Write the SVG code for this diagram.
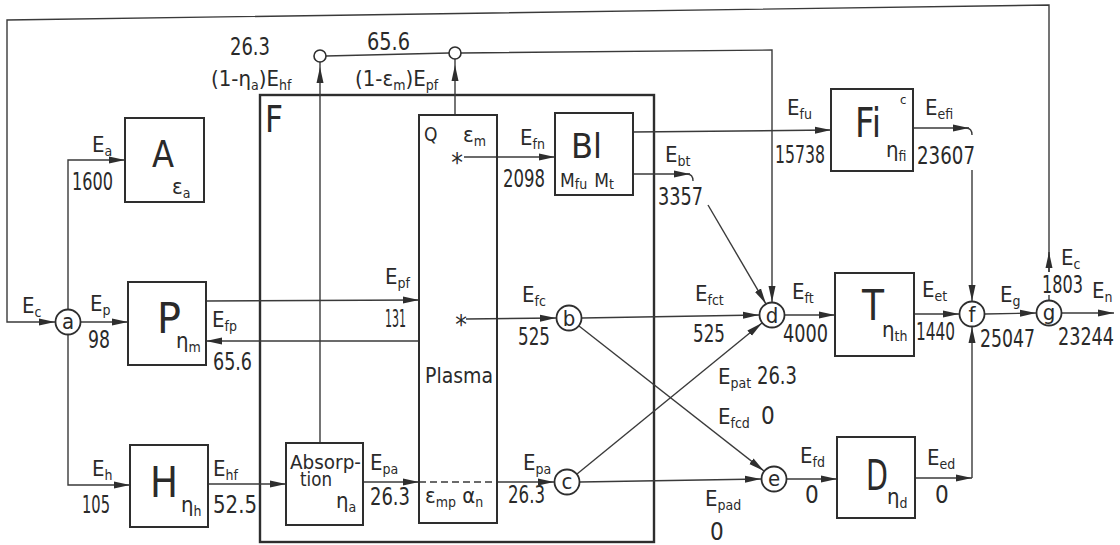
<svg xmlns="http://www.w3.org/2000/svg" width="1120" height="545" viewBox="0 0 1120 545">
<defs>
<marker id="ar" markerUnits="userSpaceOnUse" markerWidth="16" markerHeight="8" refX="16" refY="4" orient="auto">
<path d="M0,0.5 L16,4 L0,7.5 z" fill="#2e2e2e"/>
</marker>
<style>
.t{font-family:"Liberation Sans Narrow","DejaVu Sans Condensed","Liberation Sans",sans-serif;font-size:22px;fill:#2a2a2a}
.n{font-size:24px}
.s{font-size:14px}
.big{font-size:42px}
.box{fill:#fff;stroke:#2e2e2e;stroke-width:2}
.thick{fill:none;stroke:#2e2e2e;stroke-width:2.4}
.ln{fill:none;stroke:#3a3a3a;stroke-width:1.4}
.arr{fill:none;stroke:#3a3a3a;stroke-width:1.4;marker-end:url(#ar)}
.cir{fill:#fff;stroke:#2e2e2e;stroke-width:1.8}
.sc{fill:#fff;stroke:#2e2e2e;stroke-width:1.6}
.c{text-anchor:middle}
</style>
</defs>
<rect width="1120" height="545" fill="#fff"/>

<g id="frameF">
<rect class="thick" x="260" y="95" width="394" height="447"/>
<text class="t" x="265" y="132" style="font-size:37px" textLength="18" lengthAdjust="spacingAndGlyphs">F</text>
</g>

<g id="connectors">
<path class="arr" d="M1049,272 L1049,5 L7,20 L7,322 L55,322"/>
<line class="arr" x1="1049" y1="272" x2="1049" y2="252"/>
<line class="ln" x1="1049" y1="300" x2="1049" y2="295"/>
<path class="arr" d="M68,309 L68,160 L125,160"/>
<line class="arr" x1="81" y1="322" x2="128" y2="322"/>
<path class="arr" d="M68,335 L68,485 L130,485"/>
<line class="arr" x1="206" y1="301" x2="419" y2="300"/>
<line class="arr" x1="419" y1="341" x2="206" y2="341"/>
<line class="arr" x1="208" y1="484" x2="286" y2="484"/>
<line class="arr" x1="363" y1="482" x2="419" y2="482"/>
<line class="ln" x1="419" y1="482" x2="497" y2="482" stroke-dasharray="7,4"/>
<line class="arr" x1="497" y1="482" x2="554" y2="482"/>
<line class="arr" x1="320" y1="443" x2="320" y2="67"/>
<line class="ln" x1="320" y1="67" x2="320" y2="62"/>
<line class="arr" x1="455" y1="115" x2="455" y2="65"/>
<line class="ln" x1="455" y1="65" x2="455" y2="59"/>
<line class="ln" x1="326" y1="56" x2="449" y2="53"/>
<path class="arr" d="M461,53 L772,50 L772,302"/>
<line class="arr" x1="464" y1="157" x2="555" y2="157"/>
<line class="arr" x1="633" y1="132" x2="831" y2="130"/>
<line class="arr" x1="633" y1="174" x2="690" y2="174"/>
<path class="ln" d="M687,174 Q693,174 693,181"/>
<line class="arr" x1="708" y1="205" x2="766" y2="304"/>
<line class="arr" x1="466" y1="319" x2="556" y2="318"/>
<line class="arr" x1="582" y1="318" x2="759" y2="315"/>
<line class="arr" x1="579" y1="326" x2="764" y2="471"/>
<line class="arr" x1="577" y1="474" x2="762" y2="323"/>
<line class="arr" x1="580" y1="482" x2="761" y2="479"/>
<line class="arr" x1="785" y1="315" x2="835" y2="315"/>
<line class="arr" x1="914" y1="314" x2="959" y2="314"/>
<line class="arr" x1="985" y1="314" x2="1036" y2="313"/>
<line class="arr" x1="1062" y1="313" x2="1114" y2="313"/>
<line class="arr" x1="913" y1="128" x2="969" y2="128"/>
<path class="ln" d="M966,128 Q972,128 972,135"/>
<line class="arr" x1="972" y1="170" x2="972" y2="301"/>
<line class="arr" x1="787" y1="479" x2="837" y2="479"/>
<line class="arr" x1="915" y1="478" x2="972" y2="478"/>
<line class="arr" x1="972" y1="478" x2="972" y2="327"/>
</g>

<g id="smallCircles">
<circle class="sc" cx="320" cy="56" r="6"/>
<circle class="sc" cx="455" cy="53" r="6"/>
</g>

<g id="nodeA">
<rect class="box" x="125" y="118" width="79" height="84"/>
<text class="t" x="152" y="167" style="font-size:37px" textLength="22" lengthAdjust="spacingAndGlyphs">A</text>
<text class="t" x="172" y="194">ε<tspan class="s" dy="4">a</tspan></text>
</g>
<g id="nodeP">
<rect class="box" x="128" y="282" width="78" height="83"/>
<text class="t big" x="157" y="333" textLength="24" lengthAdjust="spacingAndGlyphs">P</text>
<text class="t" x="176" y="348">η<tspan class="s" dy="4">m</tspan></text>
</g>
<g id="nodeH">
<rect class="box" x="130" y="445" width="78" height="82"/>
<text class="t big" x="150" y="497" textLength="28" lengthAdjust="spacingAndGlyphs">H</text>
<text class="t" x="181" y="512">η<tspan class="s" dy="4">h</tspan></text>
</g>
<g id="nodeAbsorption">
<rect class="box" x="286" y="443" width="77" height="82"/>
<text class="t" x="290" y="469" style="font-size:20px" textLength="71" lengthAdjust="spacingAndGlyphs">Absorp-</text>
<text class="t" x="300" y="486" style="font-size:20px" textLength="32" lengthAdjust="spacingAndGlyphs">tion</text>
<text class="t" x="336" y="508">η<tspan class="s" dy="4">a</tspan></text>
</g>
<g id="nodePlasma">
<rect class="box" x="419" y="115" width="78" height="408" style="fill:none"/>
<text class="t" x="424" y="141" style="font-size:19px">Q</text>
<text class="t" x="463" y="142">ε<tspan class="s" dy="4">m</tspan></text>
<text class="t c" x="457" y="172" style="font-size:26px">*</text>
<text class="t c" x="461" y="334" style="font-size:26px">*</text>
<text class="t" x="425" y="383" textLength="68" lengthAdjust="spacingAndGlyphs">Plasma</text>
<text class="t" x="425" y="503">ε<tspan class="s" dy="4">mp</tspan><tspan dy="-4"> α</tspan><tspan class="s" dy="4">n</tspan></text>
</g>
<g id="nodeBl">
<rect class="box" x="555" y="113" width="78" height="82"/>
<text class="t" x="571" y="158" style="font-size:33px" textLength="31" lengthAdjust="spacingAndGlyphs">Bl</text>
<text class="t" x="560" y="187" style="font-size:19px">M<tspan class="s" dy="2">fu</tspan><tspan dx="7" dy="-2">M</tspan><tspan class="s" dy="2">t</tspan></text>
</g>
<g id="nodeFi">
<rect class="box" x="831" y="89" width="82" height="82"/>
<text class="t" x="855" y="137" style="font-size:40px" textLength="26" lengthAdjust="spacingAndGlyphs">Fi</text>
<text class="t" x="900" y="104" style="font-size:13px">c</text>
<text class="t" x="886" y="157">η<tspan class="s" dy="4">fi</tspan></text>
</g>
<g id="nodeT">
<rect class="box" x="835" y="273" width="79" height="83"/>
<text class="t big" x="862" y="320" textLength="22" lengthAdjust="spacingAndGlyphs">T</text>
<text class="t" x="882" y="337">η<tspan class="s" dy="4">th</tspan></text>
</g>
<g id="nodeD">
<rect class="box" x="837" y="437" width="78" height="81"/>
<text class="t big" x="866" y="490" textLength="22" lengthAdjust="spacingAndGlyphs">D</text>
<text class="t" x="887" y="504">η<tspan class="s" dy="4">d</tspan></text>
</g>

<g id="node_a"><circle class="cir" cx="68" cy="322" r="12.5"/><text class="t c" x="68" y="329">a</text></g>
<g id="node_b"><circle class="cir" cx="569" cy="318" r="12.5"/><text class="t c" x="569" y="326">b</text></g>
<g id="node_c"><circle class="cir" cx="567" cy="482" r="12.5"/><text class="t c" x="567" y="489">c</text></g>
<g id="node_d"><circle class="cir" cx="772" cy="315" r="12.5"/><text class="t c" x="772" y="323">d</text></g>
<g id="node_e"><circle class="cir" cx="774" cy="479" r="12.5"/><text class="t c" x="774" y="486">e</text></g>
<g id="node_f"><circle class="cir" cx="972" cy="314" r="12.5"/><text class="t c" x="972" y="322">f</text></g>
<g id="node_g"><circle class="cir" cx="1049" cy="313" r="12.5"/><text class="t c" x="1049" y="320">g</text></g>

<g id="labels">
<text class="t" x="22" y="313">E<tspan class="s" dy="4">c</tspan></text>
<text class="t" x="92" y="152">E<tspan class="s" dy="4">a</tspan></text>
<text class="t n" x="72" y="190" textLength="41" lengthAdjust="spacingAndGlyphs">1600</text>
<text class="t" x="90" y="311">E<tspan class="s" dy="4">p</tspan></text>
<text class="t n" x="88" y="348" textLength="22" lengthAdjust="spacingAndGlyphs">98</text>
<text class="t n" x="82" y="513" textLength="28" lengthAdjust="spacingAndGlyphs">105</text>
<text class="t" x="92" y="476">E<tspan class="s" dy="4">h</tspan></text>
<text class="t" x="213" y="476">E<tspan class="s" dy="4">hf</tspan></text>
<text class="t n" x="213" y="513" textLength="44" lengthAdjust="spacingAndGlyphs">52.5</text>
<text class="t" x="212" y="327">E<tspan class="s" dy="4">fp</tspan></text>
<text class="t n" x="213" y="370" textLength="39" lengthAdjust="spacingAndGlyphs">65.6</text>
<text class="t" x="385" y="284">E<tspan class="s" dy="4">pf</tspan></text>
<text class="t n" x="385" y="327" textLength="21" lengthAdjust="spacingAndGlyphs">131</text>
<text class="t n" x="230" y="55" textLength="40" lengthAdjust="spacingAndGlyphs">26.3</text>
<text class="t" x="211" y="86">(1-η<tspan class="s" dy="4">a</tspan><tspan dy="-4">)E</tspan><tspan class="s" dy="4">hf</tspan></text>
<text class="t n" x="367" y="50" textLength="43" lengthAdjust="spacingAndGlyphs">65.6</text>
<text class="t" x="355" y="86">(1-ε<tspan class="s" dy="4">m</tspan><tspan dy="-4">)E</tspan><tspan class="s" dy="4">pf</tspan></text>
<text class="t" x="520" y="145">E<tspan class="s" dy="4">fn</tspan></text>
<text class="t n" x="503" y="187" textLength="42" lengthAdjust="spacingAndGlyphs">2098</text>
<text class="t" x="665" y="162">E<tspan class="s" dy="4">bt</tspan></text>
<text class="t n" x="658" y="205" textLength="45" lengthAdjust="spacingAndGlyphs">3357</text>
<text class="t" x="787" y="115">E<tspan class="s" dy="4">fu</tspan></text>
<text class="t n" x="775" y="163" textLength="50" lengthAdjust="spacingAndGlyphs">15738</text>
<text class="t" x="925" y="115">E<tspan class="s" dy="4">efi</tspan></text>
<text class="t n" x="917" y="164" textLength="58" lengthAdjust="spacingAndGlyphs">23607</text>
<text class="t" x="522" y="302">E<tspan class="s" dy="4">fc</tspan></text>
<text class="t n" x="518" y="345" textLength="32" lengthAdjust="spacingAndGlyphs">525</text>
<text class="t" x="695" y="301">E<tspan class="s" dy="4">fct</tspan></text>
<text class="t n" x="693" y="342" textLength="32" lengthAdjust="spacingAndGlyphs">525</text>
<text class="t" x="718" y="384">E<tspan class="s" dy="4">pat</tspan></text>
<text class="t n" x="757" y="384" textLength="40" lengthAdjust="spacingAndGlyphs">26.3</text>
<text class="t" x="718" y="424">E<tspan class="s" dy="4">fcd</tspan></text>
<text class="t n" x="761" y="424">0</text>
<text class="t" x="370" y="470">E<tspan class="s" dy="4">pa</tspan></text>
<text class="t n" x="370" y="505" textLength="40" lengthAdjust="spacingAndGlyphs">26.3</text>
<text class="t" x="523" y="470">E<tspan class="s" dy="4">pa</tspan></text>
<text class="t n" x="508" y="503" textLength="37" lengthAdjust="spacingAndGlyphs">26.3</text>
<text class="t" x="705" y="506">E<tspan class="s" dy="4">pad</tspan></text>
<text class="t n" x="710" y="540">0</text>
<text class="t" x="792" y="299">E<tspan class="s" dy="4">ft</tspan></text>
<text class="t n" x="783" y="342" textLength="45" lengthAdjust="spacingAndGlyphs">4000</text>
<text class="t" x="922" y="297">E<tspan class="s" dy="4">et</tspan></text>
<text class="t n" x="916" y="340" textLength="39" lengthAdjust="spacingAndGlyphs">1440</text>
<text class="t" x="1000" y="302">E<tspan class="s" dy="4">g</tspan></text>
<text class="t n" x="980" y="347" textLength="55" lengthAdjust="spacingAndGlyphs">25047</text>
<text class="t" x="1061" y="265">E<tspan class="s" dy="4">c</tspan></text>
<text class="t n" x="1042" y="293" textLength="41" lengthAdjust="spacingAndGlyphs">1803</text>
<text class="t" x="1092" y="298">E<tspan class="s" dy="4">n</tspan></text>
<text class="t n" x="1058" y="345" textLength="56" lengthAdjust="spacingAndGlyphs">23244</text>
<text class="t" x="800" y="463">E<tspan class="s" dy="4">fd</tspan></text>
<text class="t n" x="805" y="503">0</text>
<text class="t" x="927" y="465">E<tspan class="s" dy="4">ed</tspan></text>
<text class="t n" x="935" y="503">0</text>
</g>
</svg>
